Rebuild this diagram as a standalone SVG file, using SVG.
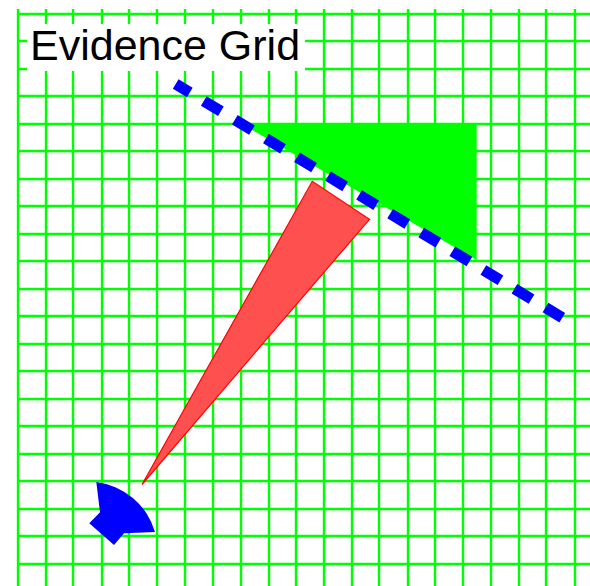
<svg xmlns="http://www.w3.org/2000/svg" width="590" height="586" viewBox="0 0 590 586">
<style>
.g{stroke:#0f0;stroke-width:2.4;fill:none}
text{font-family:"Liberation Sans",Arial,sans-serif;font-size:43px;fill:#000}
</style>
<rect width="590" height="586" fill="#fff"/>
<g id="grid"><path class="g" d="M18 9V586M46 9V586M73 9V586M102 9V586M129 9V586M157 9V586M185 9V586M213 9V586M241 9V586M269 9V586M296 9V586M324 9V586M352 9V586M379 9V586M408 9V586M435 9V586M463 9V586M491 9V586M519 9V586M546 9V586M575 9V586M18 14H590M18 41H590M18 69H590M18 96H590M18 124H590M18 151H590M18 179H590M18 206H590M18 234H590M18 261H590M18 289H590M18 316H590M18 344H590M18 371H590M18 399H590M18 426H590M18 454H590M18 481H590M18 509H590M18 536H590M18 564H590"/></g>
<g id="free-space"><polygon points="240,123 476.7,123 476.7,260" fill="#0f0"/></g>
<g id="wall"><line x1="175.7" y1="84" x2="562.3" y2="317.7" stroke="#00f" stroke-width="11" stroke-dasharray="20 16.3" stroke-dashoffset="3.5"/></g>
<g id="cone"><polygon points="142,484.5 312.3,181.3 369.5,219.3" fill="#ff5050" stroke="#f00" stroke-width="1.2"/></g>
<g id="robot"><path d="M96.3 482A70 70 0 0 1 155 532L124 533.3L114 545L89.3 523.3L100 512.3Z" fill="#00f"/></g>
<g id="title"><rect x="27" y="24" width="278" height="47" fill="#fff"/><text x="30" y="59.5">Evidence Grid</text></g>
</svg>
